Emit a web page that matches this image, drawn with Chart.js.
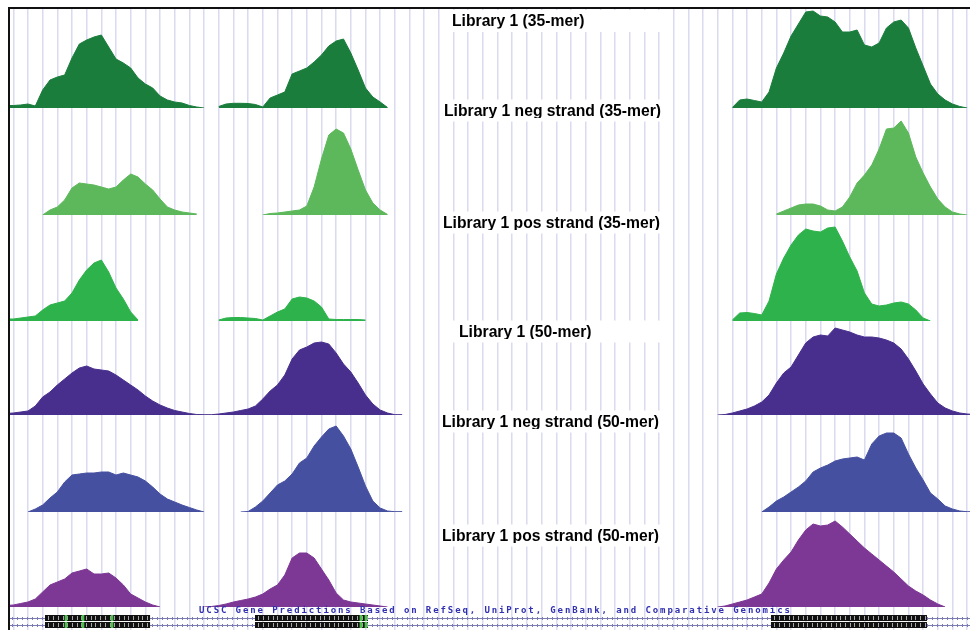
<!DOCTYPE html>
<html>
<head>
<meta charset="utf-8">
<script src="https://cdn.jsdelivr.net/npm/chart.js@4.4.1/dist/chart.umd.min.js"></script>
<style>
  html, body { margin: 0; padding: 0; background: #ffffff; }
  #wrap { width: 970px; height: 630px; position: relative; }
</style>
</head>
<body>
<div id="wrap"><canvas id="browser" width="970" height="630"></canvas></div>
<script>
// Coverage samples are taken every STEP kb; each region is [start kb, samples...]
const STEP = 0.5;

const lib35All = [
  [-0.5, [2.5, 2.5, 3, 4, 2, 18, 28, 31, 33, 50, 64, 68, 71, 73, 61, 49, 45, 40, 30, 24, 20, 12, 8, 6, 5, 2.5, 1, 0]],
  [14, [1.5, 4, 4.7, 4.7, 4.5, 3.5, 1, 10, 13, 16, 34, 37, 40, 46, 53, 62, 67, 69, 55, 38, 20, 11, 6, 0.5]],
  [49, [0.5, 8, 9, 7.5, 6, 16, 40, 55, 72, 84, 96, 97, 92, 91, 86, 76, 76, 78, 63, 61, 65, 80, 86, 88, 80, 60, 42, 24, 14, 8, 4, 1.5, 0]]
];
const lib35Neg = [
  [2, [0, 5, 8, 15, 27, 32, 31, 30, 28, 26, 28, 35, 41, 38, 31, 25, 16, 8, 5, 3, 2, 1]],
  [17, [0, 1.5, 2, 3, 4, 5, 9, 28, 56, 80, 86, 82, 66, 45, 25, 12, 5, 0.5]],
  [52, [1, 4, 7, 10, 11, 11, 9, 5, 4, 8, 18, 32, 40, 50, 66, 86, 87, 94, 82, 58, 42, 28, 16, 8, 3, 1, 0]]
];
const lib35Pos = [
  [-0.5, [2, 2, 3, 4, 5, 11, 16, 18, 20, 28, 41, 51, 58, 61, 49, 33, 22, 9, 1]],
  [14, [1, 3, 3.5, 3.5, 3, 2.5, 1, 5, 9, 12, 22, 24, 23, 20, 14, 2, 1.5, 1.5, 1.5, 1.5, 1]],
  [49, [1, 8, 8.5, 7.5, 6, 20, 47, 63, 76, 86, 92, 90, 89, 93, 94, 80, 64, 50, 28, 17, 15, 16, 18, 19, 17, 11, 3, 0]]
];
const lib50All = [
  [-0.5, [1.5, 2, 3, 4, 9, 18, 23, 30, 36, 42, 47, 49, 46, 45, 44, 40, 35, 30, 25, 19, 14, 10, 7, 4.5, 3, 1.5, 0.5, 0.3, 0.3]],
  [14, [1, 2, 3, 4.5, 6, 9, 16, 24, 30, 40, 56, 65, 68, 72, 73, 71, 62, 51, 43, 32, 20, 11, 5, 2, 0.3, 0.3]],
  [48, [0, 0.5, 2, 4, 6, 9, 13, 20, 32, 42, 48, 60, 72, 78, 80, 79, 87, 85, 83, 80, 78, 78, 77, 75, 72, 66, 56, 44, 31, 21, 12, 7, 4, 2, 1, 0.5]]
];
const lib50Neg = [
  [1, [0, 3, 7, 14, 20, 30, 37, 38, 39, 39, 40, 40, 37, 39, 37, 35, 31, 25, 18, 13, 10, 7, 4.5, 2, 0]],
  [15.5, [0, 0.5, 5, 11, 19, 27, 31, 38, 49, 54, 66, 75, 83, 86, 76, 63, 45, 26, 11, 4, 1, 0.3, 0.3]],
  [51, [0, 5, 11, 15, 20, 25, 31, 40, 44, 47, 51, 53, 54, 55, 52, 68, 76, 79, 79, 74, 58, 44, 32, 19, 13, 6, 3, 1, 0.3, 0.3]]
];
const lib50Pos = [
  [-0.5, [1.5, 2, 3.5, 5, 8, 15, 22, 25, 28, 34, 36, 38, 33, 33, 34, 29, 22, 13, 9, 5, 2, 0]],
  [13, [0, 0.5, 1.5, 3, 5, 6.5, 8, 10, 13, 18, 22, 32, 49, 54, 54, 49, 38, 27, 14, 7, 5, 4, 3, 2, 1, 0]],
  [48, [0, 1, 3, 5, 7, 10, 13, 24, 38, 47, 55, 67, 77, 83, 81, 82, 86, 80, 73, 66, 59, 53, 47, 41, 35, 28, 21, 16, 12, 7, 3, 0]]
];

const trackSeries = [lib35All, lib35Neg, lib35Pos, lib50All, lib50Neg, lib50Pos];
const trackTitles = [
  'Library 1 (35-mer)',
  'Library 1 neg strand (35-mer)',
  'Library 1 pos strand (35-mer)',
  'Library 1 (50-mer)',
  'Library 1 neg strand (50-mer)',
  'Library 1 pos strand (50-mer)'
];
const trackMax = [101, 107, 106, 94, 97, 95];

// Gene model (kb): exon blocks, highlighted codon marks, two transcripts
const geneExons = [[2.16, 9.32], [16.47, 24.17], [51.63, 62.26]];
const geneMarks = [3.59, 4.75, 6.73, 23.69, 24.03];
const geneRows = [12, 5];
const geneLabel = 'UCSC Gene Predictions Based on RefSeq, UniProt, GenBank, and Comparative Genomics';

// Styling
const trackColors = ['#1a7d3c', '#5cb85a', '#2eb24b', '#482f8e', '#4650a0', '#7d3795'];
const titleLeft = [452, 444, 443, 459, 442, 442];
const titleBaseline = [26, 115.5, 227.5, 336.5, 426.5, 540.5];

function buildPoints(regions) {
  const pts = [];
  let lastX = null;
  regions.forEach(([start, vals]) => {
    if (lastX !== null && start > lastX + STEP + 1e-9) {
      pts.push({ x: (lastX + start) / 2, y: null });
    }
    vals.forEach((v, i) => pts.push({ x: start + i * STEP, y: v }));
    lastX = start + (vals.length - 1) * STEP;
  });
  return pts;
}

const datasets = trackSeries.map((regions, i) => ({
  type: 'line',
  label: trackTitles[i],
  data: buildPoints(regions),
  xAxisID: 'x',
  yAxisID: 'track' + i,
  borderColor: trackColors[i],
  backgroundColor: trackColors[i],
  borderWidth: 1,
  fill: 'origin',
  pointRadius: 0,
  tension: 0,
  spanGaps: false
}));

const scales = {
  x: {
    type: 'linear',
    min: -0.2249,
    max: 65.193,
    afterBuildTicks: (scale) => {
      const ticks = [];
      for (let v = Math.ceil(scale.min); v <= Math.floor(scale.max); v++) ticks.push({ value: v });
      scale.ticks = ticks;
    },
    ticks: { display: false },
    grid: { color: '#dadaf0', lineWidth: 1.5, drawTicks: false },
    border: { display: false }
  }
};
trackMax.forEach((m, i) => {
  scales['track' + i] = {
    type: 'linear', position: 'right', stack: 'tracks', stackWeight: m,
    min: 0, max: m, display: false
  };
});
scales.gene = {
  type: 'linear', position: 'right', stack: 'tracks', stackWeight: 23,
  min: 0, max: 23, display: false
};

const browserFrame = {
  id: 'browserFrame',
  beforeDatasetsDraw(chart) {
    const ctx = chart.ctx;
    ctx.save();
    ctx.font = 'bold 15.7px "Liberation Sans", Arial, sans-serif';
    ctx.textBaseline = 'alphabetic';
    ctx.textAlign = 'left';
    trackTitles.forEach((t, i) => {
      const b = titleBaseline[i];
      ctx.fillStyle = '#ffffff';
      ctx.fillRect(440, b - 16, 226, 22);
      ctx.save();
      ctx.beginPath();
      ctx.rect(430, b - 18, 250, 20.5);
      ctx.clip();
      ctx.fillStyle = '#000000';
      ctx.fillText(t, titleLeft[i], b);
      ctx.restore();
    });
    ctx.restore();
  },
  afterDatasetsDraw(chart) {
    const ctx = chart.ctx;
    const xs = chart.scales.x;
    const ys = chart.scales.gene;
    const area = chart.chartArea;
    ctx.save();

    // track description above the gene models
    ctx.font = 'bold 9px "DejaVu Sans Mono", monospace';
    ctx.fillStyle = '#3030b0';
    ctx.textBaseline = 'middle';
    const natural = ctx.measureText(geneLabel).width;
    const target = 593;
    if ('letterSpacing' in ctx) {
      ctx.letterSpacing = ((target - natural) / geneLabel.length).toFixed(2) + 'px';
      ctx.fillText(geneLabel, 199, ys.getPixelForValue(19.2));
      ctx.letterSpacing = '0px';
    } else {
      ctx.save();
      ctx.translate(199, ys.getPixelForValue(19.2));
      ctx.scale(target / natural, 1);
      ctx.fillText(geneLabel, 0, 0);
      ctx.restore();
    }

    geneRows.forEach((row) => {
      const yc = Math.round(ys.getPixelForValue(row)) + 0.5;
      const yTop = ys.getPixelForValue(row + 3);
      const yBot = ys.getPixelForValue(row - 3);
      // intron line with strand chevrons
      ctx.strokeStyle = '#7c7cb4';
      ctx.lineWidth = 1;
      ctx.beginPath();
      ctx.moveTo(area.left, yc);
      ctx.lineTo(area.right, yc);
      for (let x = area.left + 3; x < area.right; x += 5) {
        ctx.moveTo(x - 1, yc - 1.5);
        ctx.lineTo(x + 0.5, yc);
        ctx.lineTo(x - 1, yc + 1.5);
      }
      ctx.stroke();
      // exon blocks
      geneExons.forEach(([s, e]) => {
        const x0 = xs.getPixelForValue(s);
        const x1 = xs.getPixelForValue(e);
        ctx.fillStyle = '#111111';
        ctx.fillRect(x0, yTop, x1 - x0, yBot - yTop);
        ctx.strokeStyle = '#a8a8a8';
        ctx.beginPath();
        for (let x = x0 + 3.5; x < x1 - 1; x += 4.7) {
          ctx.moveTo(Math.round(x) + 0.5, yTop + 1);
          ctx.lineTo(Math.round(x) + 0.5, yBot - 1);
        }
        ctx.stroke();
      });
      ctx.fillStyle = '#4cc04c';
      geneMarks.forEach((m) => {
        const x = xs.getPixelForValue(m);
        ctx.fillRect(x - 1.3, yTop, 2.6, yBot - yTop);
      });
    });

    // frame
    ctx.fillStyle = '#111111';
    ctx.fillRect(8, 7, area.right - 8, 2);
    ctx.fillRect(8, 7, 2, area.bottom - 7);
    ctx.restore();
  }
};

new Chart(document.getElementById('browser'), {
  type: 'line',
  data: { datasets },
  options: {
    responsive: false,
    devicePixelRatio: 1,
    animation: false,
    layout: { padding: { left: 10, top: 7, right: 0, bottom: 0 } },
    scales,
    plugins: { legend: { display: false }, tooltip: { enabled: false }, title: { display: false } },
    elements: { line: { capBezierPoints: false } }
  },
  plugins: [browserFrame]
});
</script>
</body>
</html>
